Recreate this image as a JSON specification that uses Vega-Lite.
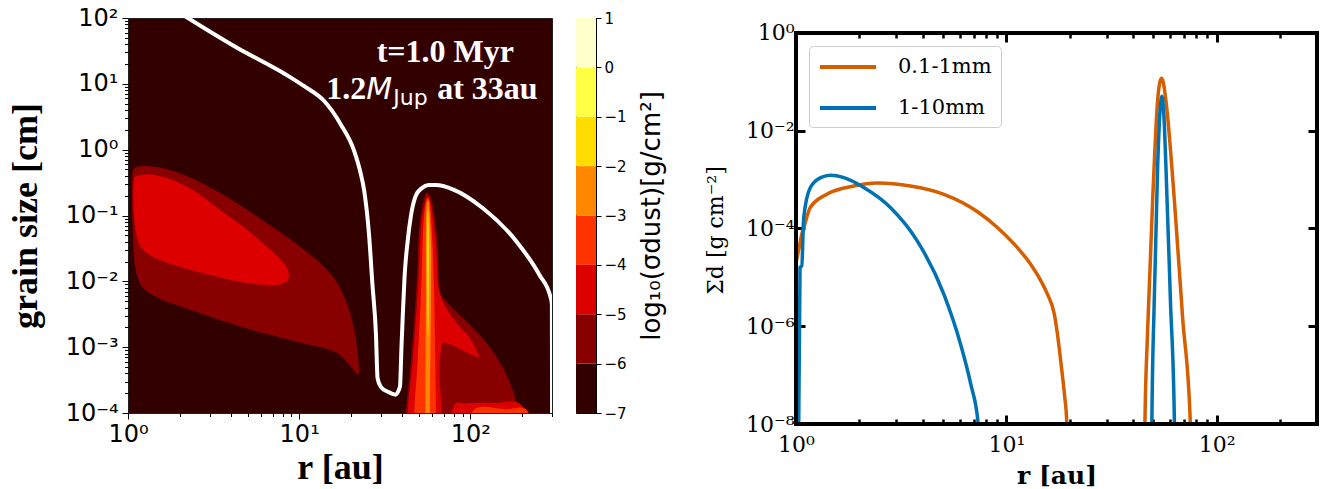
{
  "$schema": "https://vega.github.io/schema/vega-lite/v6.json",
  "background": "white",
  "padding": {"left": 6, "top": 5, "right": 5, "bottom": 0},
  "config": {
    "view": {"stroke": null},
    "axis": {"grid": false, "labelColor": "#000", "tickColor": "#000", "titleColor": "#000", "domain": false, "labelOverlap": false, "labelFlush": false}
  },
  "resolve": {"scale": {"color": "independent"}, "legend": {"color": "independent"}},
  "datasets": {
    "contours": [
      {"poly":"A6","level":-6,"i":0,"r":1.07,"a":0.473},
      {"poly":"A6","level":-6,"i":1,"r":1.12,"a":0.545},
      {"poly":"A6","level":-6,"i":2,"r":1.31,"a":0.564},
      {"poly":"A6","level":-6,"i":3,"r":1.71,"a":0.50},
      {"poly":"A6","level":-6,"i":4,"r":2.45,"a":0.353},
      {"poly":"A6","level":-6,"i":5,"r":3.85,"a":0.186},
      {"poly":"A6","level":-6,"i":6,"r":6.03,"a":0.087},
      {"poly":"A6","level":-6,"i":7,"r":9.43,"a":0.0385},
      {"poly":"A6","level":-6,"i":8,"r":13.5,"a":0.0181},
      {"poly":"A6","level":-6,"i":9,"r":16.9,"a":0.00898},
      {"poly":"A6","level":-6,"i":10,"r":19.4,"a":0.00396},
      {"poly":"A6","level":-6,"i":11,"r":21.2,"a":0.00156},
      {"poly":"A6","level":-6,"i":12,"r":22.1,"a":0.00069},
      {"poly":"A6","level":-6,"i":13,"r":22.3,"a":0.00039},
      {"poly":"A6","level":-6,"i":14,"r":20.2,"a":0.00049},
      {"poly":"A6","level":-6,"i":15,"r":17.7,"a":0.00073},
      {"poly":"A6","level":-6,"i":16,"r":14.8,"a":0.00092},
      {"poly":"A6","level":-6,"i":17,"r":9.43,"a":0.00123},
      {"poly":"A6","level":-6,"i":18,"r":6.03,"a":0.00165},
      {"poly":"A6","level":-6,"i":19,"r":3.85,"a":0.00234},
      {"poly":"A6","level":-6,"i":20,"r":2.45,"a":0.00352},
      {"poly":"A6","level":-6,"i":21,"r":1.57,"a":0.0053},
      {"poly":"A6","level":-6,"i":22,"r":1.25,"a":0.0075},
      {"poly":"A6","level":-6,"i":23,"r":1.14,"a":0.0113},
      {"poly":"A6","level":-6,"i":24,"r":1.09,"a":0.0203},
      {"poly":"A6","level":-6,"i":25,"r":1.07,"a":0.0515},
      {"poly":"A6","level":-6,"i":26,"r":1.055,"a":0.166},
      {"poly":"A6","level":-6,"i":27,"r":1.06,"a":0.375},
      {"poly":"R6","level":-6,"i":0,"r":42,"a":0.00003},
      {"poly":"R6","level":-6,"i":1,"r":42,"a":0.0001},
      {"poly":"R6","level":-6,"i":2,"r":45,"a":0.00061},
      {"poly":"R6","level":-6,"i":3,"r":48.1,"a":0.0063},
      {"poly":"R6","level":-6,"i":4,"r":50.3,"a":0.065},
      {"poly":"R6","level":-6,"i":5,"r":53.8,"a":0.186},
      {"poly":"R6","level":-6,"i":6,"r":56.3,"a":0.22},
      {"poly":"R6","level":-6,"i":7,"r":60.2,"a":0.148},
      {"poly":"R6","level":-6,"i":8,"r":64.4,"a":0.036},
      {"poly":"R6","level":-6,"i":9,"r":65.9,"a":0.0079},
      {"poly":"R6","level":-6,"i":10,"r":72.1,"a":0.005},
      {"poly":"R6","level":-6,"i":11,"r":94.4,"a":0.0025},
      {"poly":"R6","level":-6,"i":12,"r":123,"a":0.0012},
      {"poly":"R6","level":-6,"i":13,"r":155,"a":0.00049},
      {"poly":"R6","level":-6,"i":14,"r":181,"a":0.00019},
      {"poly":"R6","level":-6,"i":15,"r":189,"a":0.00012},
      {"poly":"R6","level":-6,"i":16,"r":221,"a":0.0001},
      {"poly":"R6","level":-6,"i":17,"r":221,"a":0.00003},
      {"poly":"A5","level":-5,"i":0,"r":1.08,"a":0.333},
      {"poly":"A5","level":-5,"i":1,"r":1.14,"a":0.397},
      {"poly":"A5","level":-5,"i":2,"r":1.37,"a":0.421},
      {"poly":"A5","level":-5,"i":3,"r":1.79,"a":0.353},
      {"poly":"A5","level":-5,"i":4,"r":2.45,"a":0.235},
      {"poly":"A5","level":-5,"i":5,"r":3.51,"a":0.117},
      {"poly":"A5","level":-5,"i":6,"r":4.81,"a":0.0652},
      {"poly":"A5","level":-5,"i":7,"r":6.59,"a":0.0324},
      {"poly":"A5","level":-5,"i":8,"r":8.24,"a":0.0181},
      {"poly":"A5","level":-5,"i":9,"r":8.71,"a":0.012},
      {"poly":"A5","level":-5,"i":10,"r":8.24,"a":0.0095},
      {"poly":"A5","level":-5,"i":11,"r":6.89,"a":0.00875},
      {"poly":"A5","level":-5,"i":12,"r":4.81,"a":0.0095},
      {"poly":"A5","level":-5,"i":13,"r":3.07,"a":0.0124},
      {"poly":"A5","level":-5,"i":14,"r":1.96,"a":0.017},
      {"poly":"A5","level":-5,"i":15,"r":1.43,"a":0.0228},
      {"poly":"A5","level":-5,"i":16,"r":1.2,"a":0.0324},
      {"poly":"A5","level":-5,"i":17,"r":1.12,"a":0.0515},
      {"poly":"A5","level":-5,"i":18,"r":1.08,"a":0.117},
      {"poly":"R5","level":-5,"i":0,"r":43,"a":0.00003},
      {"poly":"R5","level":-5,"i":1,"r":43,"a":0.0001},
      {"poly":"R5","level":-5,"i":2,"r":46,"a":0.00061},
      {"poly":"R5","level":-5,"i":3,"r":49.2,"a":0.0063},
      {"poly":"R5","level":-5,"i":4,"r":51.5,"a":0.065},
      {"poly":"R5","level":-5,"i":5,"r":54.6,"a":0.166},
      {"poly":"R5","level":-5,"i":6,"r":56.3,"a":0.197},
      {"poly":"R5","level":-5,"i":7,"r":58.9,"a":0.148},
      {"poly":"R5","level":-5,"i":8,"r":63,"a":0.036},
      {"poly":"R5","level":-5,"i":9,"r":65.9,"a":0.0071},
      {"poly":"R5","level":-5,"i":10,"r":78.9,"a":0.0028},
      {"poly":"R5","level":-5,"i":11,"r":98.6,"a":0.0014},
      {"poly":"R5","level":-5,"i":12,"r":110,"a":0.00082},
      {"poly":"R5","level":-5,"i":13,"r":108,"a":0.00072},
      {"poly":"R5","level":-5,"i":14,"r":72,"a":0.00116},
      {"poly":"R5","level":-5,"i":15,"r":67.4,"a":0.00087},
      {"poly":"R5","level":-5,"i":16,"r":65.9,"a":0.00034},
      {"poly":"R5","level":-5,"i":17,"r":67.4,"a":0.00015},
      {"poly":"R5","level":-5,"i":18,"r":65.9,"a":0.00003},
      {"poly":"S5","level":-5,"i":0,"r":76,"a":0.00003},
      {"poly":"S5","level":-5,"i":1,"r":80,"a":0.000125},
      {"poly":"S5","level":-5,"i":2,"r":95,"a":0.00014},
      {"poly":"S5","level":-5,"i":3,"r":140,"a":0.000142},
      {"poly":"S5","level":-5,"i":4,"r":200,"a":0.00013},
      {"poly":"S5","level":-5,"i":5,"r":235,"a":0.00003},
      {"poly":"R4","level":-4,"i":0,"r":47,"a":0.00003},
      {"poly":"R4","level":-4,"i":1,"r":47,"a":0.0001},
      {"poly":"R4","level":-4,"i":2,"r":49.2,"a":0.00061},
      {"poly":"R4","level":-4,"i":3,"r":51.5,"a":0.0063},
      {"poly":"R4","level":-4,"i":4,"r":53.1,"a":0.065},
      {"poly":"R4","level":-4,"i":5,"r":55,"a":0.156},
      {"poly":"R4","level":-4,"i":6,"r":56.3,"a":0.18},
      {"poly":"R4","level":-4,"i":7,"r":58,"a":0.148},
      {"poly":"R4","level":-4,"i":8,"r":60.2,"a":0.036},
      {"poly":"R4","level":-4,"i":9,"r":61.5,"a":0.0063},
      {"poly":"R4","level":-4,"i":10,"r":62.4,"a":0.00061},
      {"poly":"R4","level":-4,"i":11,"r":63,"a":0.0001},
      {"poly":"R4","level":-4,"i":12,"r":63,"a":0.00003},
      {"poly":"S4","level":-4,"i":0,"r":98,"a":0.00003},
      {"poly":"S4","level":-4,"i":1,"r":105,"a":0.000112},
      {"poly":"S4","level":-4,"i":2,"r":160,"a":0.000114},
      {"poly":"S4","level":-4,"i":3,"r":215,"a":0.000108},
      {"poly":"S4","level":-4,"i":4,"r":228,"a":0.00003},
      {"poly":"R3","level":-3,"i":0,"r":54.6,"a":0.00003},
      {"poly":"R3","level":-3,"i":1,"r":54.6,"a":0.00012},
      {"poly":"R3","level":-3,"i":2,"r":55,"a":0.0063},
      {"poly":"R3","level":-3,"i":3,"r":55,"a":0.065},
      {"poly":"R3","level":-3,"i":4,"r":55.7,"a":0.148},
      {"poly":"R3","level":-3,"i":5,"r":56.6,"a":0.166},
      {"poly":"R3","level":-3,"i":6,"r":57.5,"a":0.14},
      {"poly":"R3","level":-3,"i":7,"r":58.9,"a":0.036},
      {"poly":"R3","level":-3,"i":8,"r":58.9,"a":0.0063},
      {"poly":"R3","level":-3,"i":9,"r":58,"a":0.00012},
      {"poly":"R3","level":-3,"i":10,"r":58,"a":0.00003},
      {"poly":"R2","level":-2,"i":0,"r":56.1,"a":0.1},
      {"poly":"R2","level":-2,"i":1,"r":55.7,"a":0.02},
      {"poly":"R2","level":-2,"i":2,"r":56.3,"a":0.002},
      {"poly":"R2","level":-2,"i":3,"r":57,"a":0.002},
      {"poly":"R2","level":-2,"i":4,"r":57.3,"a":0.02},
      {"poly":"R2","level":-2,"i":5,"r":57,"a":0.1}
    ],
    "whiteline": [
      {"i":0,"r":2.0,"a":120},
      {"i":1,"r":4.36,"a":35},
      {"i":2,"r":8.3,"a":14},
      {"i":3,"r":10.7,"a":9.2},
      {"i":4,"r":14,"a":5.48},
      {"i":5,"r":17.5,"a":2.42},
      {"i":6,"r":20.97,"a":0.953},
      {"i":7,"r":22.7,"a":0.473},
      {"i":8,"r":24.0,"a":0.235},
      {"i":9,"r":25.6,"a":0.051},
      {"i":10,"r":26.8,"a":0.0089},
      {"i":11,"r":28.1,"a":0.00155},
      {"i":12,"r":28.7,"a":0.00034},
      {"i":13,"r":30,"a":0.00025},
      {"i":14,"r":33,"a":0.00021},
      {"i":15,"r":36.5,"a":0.00019},
      {"i":16,"r":38.8,"a":0.00025},
      {"i":17,"r":39.6,"a":0.001},
      {"i":18,"r":40.3,"a":0.003},
      {"i":19,"r":41.3,"a":0.012},
      {"i":20,"r":43,"a":0.04},
      {"i":21,"r":45,"a":0.1},
      {"i":22,"r":48,"a":0.2},
      {"i":23,"r":52,"a":0.26},
      {"i":24,"r":57,"a":0.29},
      {"i":25,"r":63,"a":0.29},
      {"i":26,"r":79,"a":0.25},
      {"i":27,"r":118,"a":0.13},
      {"i":28,"r":185,"a":0.041},
      {"i":29,"r":253,"a":0.0126},
      {"i":30,"r":295,"a":0.0056},
      {"i":31,"r":299.5,"a":0.0045},
      {"i":32,"r":300.5,"a":0.00005}
    ],
    "annot": [
      {"key":"l1","txt":"t=1.0 Myr","r":71.4,"a":21.4},
      {"key":"p1","txt":"1.2","r":61.5,"a":5.87},
      {"key":"p2","txt":"M","r":61.5,"a":5.87},
      {"key":"p3","txt":"Jup","r":61.5,"a":5.87},
      {"key":"p4","txt":"at 33au","r":61.5,"a":5.87}
    ],
    "cbar": [
      {"lo":-7,"hi":-6},{"lo":-6,"hi":-5},{"lo":-5,"hi":-4},{"lo":-4,"hi":-3},
      {"lo":-3,"hi":-2},{"lo":-2,"hi":-1},{"lo":-1,"hi":0},{"lo":0,"hi":1}
    ],
    "curves": [
      {"series":"0.1-1mm","seg":"o1","i":0,"r":1.0,"S":2.0e-5},
      {"series":"0.1-1mm","seg":"o1","i":1,"r":1.04,"S":4.5e-5},
      {"series":"0.1-1mm","seg":"o1","i":2,"r":1.065,"S":7.6e-5},
      {"series":"0.1-1mm","seg":"o1","i":3,"r":1.09,"S":1.05e-4},
      {"series":"0.1-1mm","seg":"o1","i":4,"r":1.17,"S":2.7e-4},
      {"series":"0.1-1mm","seg":"o1","i":5,"r":1.4,"S":5.0e-4},
      {"series":"0.1-1mm","seg":"o1","i":6,"r":1.88,"S":7.4e-4},
      {"series":"0.1-1mm","seg":"o1","i":7,"r":2.43,"S":8.5e-4},
      {"series":"0.1-1mm","seg":"o1","i":8,"r":3.5,"S":7.4e-4},
      {"series":"0.1-1mm","seg":"o1","i":9,"r":5.05,"S":5.0e-4},
      {"series":"0.1-1mm","seg":"o1","i":10,"r":7.3,"S":2.2e-4},
      {"series":"0.1-1mm","seg":"o1","i":11,"r":9.06,"S":1.05e-4},
      {"series":"0.1-1mm","seg":"o1","i":12,"r":10.9,"S":4.8e-5},
      {"series":"0.1-1mm","seg":"o1","i":13,"r":13,"S":1.9e-5},
      {"series":"0.1-1mm","seg":"o1","i":14,"r":14.6,"S":8.5e-6},
      {"series":"0.1-1mm","seg":"o1","i":15,"r":15.7,"S":4.5e-6},
      {"series":"0.1-1mm","seg":"o1","i":16,"r":16.9,"S":1.8e-6},
      {"series":"0.1-1mm","seg":"o1","i":17,"r":17.5,"S":6.9e-7},
      {"series":"0.1-1mm","seg":"o1","i":18,"r":18.3,"S":1.4e-7},
      {"series":"0.1-1mm","seg":"o1","i":19,"r":18.9,"S":4e-8},
      {"series":"0.1-1mm","seg":"o1","i":20,"r":19.4,"S":1e-8},
      {"series":"0.1-1mm","seg":"o1","i":21,"r":19.6,"S":1e-9},
      {"series":"0.1-1mm","seg":"o2","i":0,"r":45.4,"S":1e-9},
      {"series":"0.1-1mm","seg":"o2","i":1,"r":45.6,"S":1e-8},
      {"series":"0.1-1mm","seg":"o2","i":2,"r":46.9,"S":6.9e-7},
      {"series":"0.1-1mm","seg":"o2","i":3,"r":49.6,"S":3.6e-4},
      {"series":"0.1-1mm","seg":"o2","i":4,"r":52.4,"S":0.041},
      {"series":"0.1-1mm","seg":"o2","i":5,"r":53.6,"S":0.095},
      {"series":"0.1-1mm","seg":"o2","i":6,"r":54.7,"S":0.118},
      {"series":"0.1-1mm","seg":"o2","i":7,"r":55.8,"S":0.095},
      {"series":"0.1-1mm","seg":"o2","i":8,"r":57.4,"S":0.041},
      {"series":"0.1-1mm","seg":"o2","i":9,"r":63,"S":3.6e-4},
      {"series":"0.1-1mm","seg":"o2","i":10,"r":68.9,"S":1.5e-6},
      {"series":"0.1-1mm","seg":"o2","i":11,"r":75,"S":1e-8},
      {"series":"0.1-1mm","seg":"o2","i":12,"r":75.3,"S":1e-9},
      {"series":"1-10mm","seg":"b1","i":0,"r":1.03,"S":1e-8},
      {"series":"1-10mm","seg":"b1","i":1,"r":1.045,"S":1.6e-5},
      {"series":"1-10mm","seg":"b1","i":2,"r":1.065,"S":1.7e-5},
      {"series":"1-10mm","seg":"b1","i":3,"r":1.088,"S":1.66e-4},
      {"series":"1-10mm","seg":"b1","i":4,"r":1.17,"S":6.9e-4},
      {"series":"1-10mm","seg":"b1","i":5,"r":1.31,"S":1.1e-3},
      {"series":"1-10mm","seg":"b1","i":6,"r":1.46,"S":1.23e-3},
      {"series":"1-10mm","seg":"b1","i":7,"r":1.69,"S":1.1e-3},
      {"series":"1-10mm","seg":"b1","i":8,"r":2.1,"S":6.9e-4},
      {"series":"1-10mm","seg":"b1","i":9,"r":2.81,"S":2.7e-4},
      {"series":"1-10mm","seg":"b1","i":10,"r":3.77,"S":5.6e-5},
      {"series":"1-10mm","seg":"b1","i":11,"r":5.05,"S":4.5e-6},
      {"series":"1-10mm","seg":"b1","i":12,"r":6.06,"S":4.3e-7},
      {"series":"1-10mm","seg":"b1","i":13,"r":6.77,"S":6.6e-8},
      {"series":"1-10mm","seg":"b1","i":14,"r":7.35,"S":1e-8},
      {"series":"1-10mm","seg":"b1","i":15,"r":7.42,"S":1e-9},
      {"series":"1-10mm","seg":"b2","i":0,"r":49.0,"S":1e-9},
      {"series":"1-10mm","seg":"b2","i":1,"r":49.2,"S":1e-8},
      {"series":"1-10mm","seg":"b2","i":2,"r":50.5,"S":3.3e-6},
      {"series":"1-10mm","seg":"b2","i":3,"r":52.4,"S":1.8e-3},
      {"series":"1-10mm","seg":"b2","i":4,"r":53.8,"S":0.025},
      {"series":"1-10mm","seg":"b2","i":5,"r":54.9,"S":0.051},
      {"series":"1-10mm","seg":"b2","i":6,"r":56,"S":0.025},
      {"series":"1-10mm","seg":"b2","i":7,"r":57.4,"S":1.8e-3},
      {"series":"1-10mm","seg":"b2","i":8,"r":60.3,"S":3.3e-6},
      {"series":"1-10mm","seg":"b2","i":9,"r":63,"S":1e-8},
      {"series":"1-10mm","seg":"b2","i":10,"r":63.3,"S":1e-9}
    ]
  },
  "spacing": 39,
  "hconcat": [
    {
      "spacing": 22,
      "hconcat": [
        {
          "width": 424,
          "height": 395,
          "view": {"fill": "#330000", "stroke": "#222222", "strokeWidth": 1},
          "resolve": {"axis": {"x": "independent", "y": "independent"}},
          "layer": [
            {
              "data": {"name": "contours"},
              "transform": [{"filter": "datum.level == -6"}],
              "mark": {"type": "line", "filled": true, "interpolate": "cardinal-closed", "clip": true, "strokeWidth": 0},
              "encoding": {
                "x": {"field": "r", "type": "quantitative", "scale": {"type": "log", "domain": [1, 300], "nice": false}, "axis": null},
                "y": {"field": "a", "type": "quantitative", "scale": {"type": "log", "domain": [0.0001, 100], "nice": false}, "axis": null},
                "color": {"field": "level", "type": "ordinal", "scale": {"domain": [-7,-6,-5,-4,-3,-2,-1,0], "range": ["#330000","#880000","#dd0000","#ff3300","#ff8800","#ffdd00","#ffff44","#ffffcc"]}, "legend": null},
                "detail": {"field": "poly"},
                "order": {"field": "i", "type": "quantitative"}
              }
            },
            {
              "data": {"name": "contours"},
              "transform": [{"filter": "datum.level == -5"}],
              "mark": {"type": "line", "filled": true, "interpolate": "cardinal-closed", "clip": true, "strokeWidth": 0},
              "encoding": {
                "x": {"field": "r", "type": "quantitative", "scale": {"type": "log", "domain": [1, 300], "nice": false}, "axis": null},
                "y": {"field": "a", "type": "quantitative", "scale": {"type": "log", "domain": [0.0001, 100], "nice": false}, "axis": null},
                "color": {"field": "level", "type": "ordinal", "legend": null},
                "detail": {"field": "poly"},
                "order": {"field": "i", "type": "quantitative"}
              }
            },
            {
              "data": {"name": "contours"},
              "transform": [{"filter": "datum.level == -4"}],
              "mark": {"type": "line", "filled": true, "interpolate": "cardinal-closed", "clip": true, "strokeWidth": 0},
              "encoding": {
                "x": {"field": "r", "type": "quantitative", "scale": {"type": "log", "domain": [1, 300], "nice": false}, "axis": null},
                "y": {"field": "a", "type": "quantitative", "scale": {"type": "log", "domain": [0.0001, 100], "nice": false}, "axis": null},
                "color": {"field": "level", "type": "ordinal", "legend": null},
                "detail": {"field": "poly"},
                "order": {"field": "i", "type": "quantitative"}
              }
            },
            {
              "data": {"name": "contours"},
              "transform": [{"filter": "datum.level == -3"}],
              "mark": {"type": "line", "filled": true, "interpolate": "cardinal-closed", "clip": true, "strokeWidth": 0},
              "encoding": {
                "x": {"field": "r", "type": "quantitative", "scale": {"type": "log", "domain": [1, 300], "nice": false}, "axis": null},
                "y": {"field": "a", "type": "quantitative", "scale": {"type": "log", "domain": [0.0001, 100], "nice": false}, "axis": null},
                "color": {"field": "level", "type": "ordinal", "legend": null},
                "detail": {"field": "poly"},
                "order": {"field": "i", "type": "quantitative"}
              }
            },
            {
              "data": {"name": "contours"},
              "transform": [{"filter": "datum.level == -2"}],
              "mark": {"type": "line", "filled": true, "interpolate": "cardinal-closed", "clip": true, "strokeWidth": 0},
              "encoding": {
                "x": {"field": "r", "type": "quantitative", "scale": {"type": "log", "domain": [1, 300], "nice": false}, "axis": null},
                "y": {"field": "a", "type": "quantitative", "scale": {"type": "log", "domain": [0.0001, 100], "nice": false}, "axis": null},
                "color": {"field": "level", "type": "ordinal", "legend": null},
                "detail": {"field": "poly"},
                "order": {"field": "i", "type": "quantitative"}
              }
            },
            {
              "data": {"name": "whiteline"},
              "mark": {"type": "line", "color": "white", "strokeWidth": 4, "interpolate": "monotone", "clip": true},
              "encoding": {
                "x": {"field": "r", "type": "quantitative", "scale": {"type": "log", "domain": [1, 300], "nice": false},
                  "axis": {"orient": "bottom", "values": [1, 10, 100], "labelExpr": "'10' + (datum.value < 1 ? '⁻' : '') + ['⁰','¹','²','³','⁴','⁵','⁶','⁷','⁸','⁹'][abs(round(log(datum.value)/LN10))]", "tickSize": 6, "tickWidth": 1, "labelFont": "DejaVu Sans", "labelFontSize": 24, "labelPadding": 3, "title": "r [au]", "titleFont": "Liberation Serif", "titleFontSize": 36, "titleFontWeight": "bold", "titlePadding": 4}},
                "y": {"field": "a", "type": "quantitative", "scale": {"type": "log", "domain": [0.0001, 100], "nice": false},
                  "axis": {"orient": "left", "values": [0.0001, 0.001, 0.01, 0.1, 1, 10, 100], "labelExpr": "'10' + (datum.value < 1 ? '⁻' : '') + ['⁰','¹','²','³','⁴','⁵','⁶','⁷','⁸','⁹'][abs(round(log(datum.value)/LN10))]", "tickSize": 6, "tickWidth": 1, "labelFont": "DejaVu Sans", "labelFontSize": 24, "labelPadding": 4, "title": "grain size [cm]", "titleFont": "Liberation Serif", "titleFontSize": 36, "titleFontWeight": "bold", "titlePadding": 21}},
                "order": {"field": "i", "type": "quantitative"}
              }
            },
            {
              "data": {"name": "annot"},
              "transform": [{"filter": "datum.key == 'l1'"}],
              "mark": {"type": "text", "color": "white", "font": "Liberation Serif", "fontWeight": "bold", "fontSize": 32, "align": "center", "baseline": "alphabetic"},
              "encoding": {
                "x": {"field": "r", "type": "quantitative", "scale": {"type": "log", "domain": [1, 300], "nice": false},
                  "axis": {"orient": "bottom", "values": [2,3,4,5,6,7,8,9,20,30,40,50,60,70,80,90,200,300], "labels": false, "tickSize": 3.5, "tickWidth": 1, "title": null}},
                "y": {"field": "a", "type": "quantitative", "scale": {"type": "log", "domain": [0.0001, 100], "nice": false},
                  "axis": {"orient": "left", "values": [0.0002,0.0003,0.0004,0.0005,0.0006,0.0007,0.0008,0.0009,0.002,0.003,0.004,0.005,0.006,0.007,0.008,0.009,0.02,0.03,0.04,0.05,0.06,0.07,0.08,0.09,0.2,0.3,0.4,0.5,0.6,0.7,0.8,0.9,2,3,4,5,6,7,8,9,20,30,40,50,60,70,80,90], "labels": false, "tickSize": 3.5, "tickWidth": 1, "title": null}},
                "text": {"field": "txt"}
              }
            },
            {
              "data": {"name": "annot"},
              "transform": [{"filter": "datum.key == 'p1'"}],
              "mark": {"type": "text", "color": "white", "font": "Liberation Serif", "fontWeight": "bold", "fontSize": 32, "align": "left", "baseline": "alphabetic", "dx": -108},
              "encoding": {
                "x": {"field": "r", "type": "quantitative", "scale": {"type": "log", "domain": [1, 300], "nice": false}, "axis": null},
                "y": {"field": "a", "type": "quantitative", "scale": {"type": "log", "domain": [0.0001, 100], "nice": false}, "axis": null},
                "text": {"field": "txt"}
              }
            },
            {
              "data": {"name": "annot"},
              "transform": [{"filter": "datum.key == 'p2'"}],
              "mark": {"type": "text", "color": "white", "font": "DejaVu Sans", "fontStyle": "italic", "fontSize": 30, "align": "left", "baseline": "alphabetic", "dx": -68},
              "encoding": {
                "x": {"field": "r", "type": "quantitative", "scale": {"type": "log", "domain": [1, 300], "nice": false}, "axis": null},
                "y": {"field": "a", "type": "quantitative", "scale": {"type": "log", "domain": [0.0001, 100], "nice": false}, "axis": null},
                "text": {"field": "txt"}
              }
            },
            {
              "data": {"name": "annot"},
              "transform": [{"filter": "datum.key == 'p3'"}],
              "mark": {"type": "text", "color": "white", "font": "DejaVu Sans", "fontSize": 22, "align": "left", "baseline": "alphabetic", "dx": -41, "dy": 6},
              "encoding": {
                "x": {"field": "r", "type": "quantitative", "scale": {"type": "log", "domain": [1, 300], "nice": false}, "axis": null},
                "y": {"field": "a", "type": "quantitative", "scale": {"type": "log", "domain": [0.0001, 100], "nice": false}, "axis": null},
                "text": {"field": "txt"}
              }
            },
            {
              "data": {"name": "annot"},
              "transform": [{"filter": "datum.key == 'p4'"}],
              "mark": {"type": "text", "color": "white", "font": "Liberation Serif", "fontWeight": "bold", "fontSize": 32, "align": "left", "baseline": "alphabetic", "dx": 3},
              "encoding": {
                "x": {"field": "r", "type": "quantitative", "scale": {"type": "log", "domain": [1, 300], "nice": false}, "axis": null},
                "y": {"field": "a", "type": "quantitative", "scale": {"type": "log", "domain": [0.0001, 100], "nice": false}, "axis": null},
                "text": {"field": "txt"}
              }
            }
          ]
        },
        {
          "width": 20,
          "height": 395,
          "view": {"stroke": "#000000", "strokeWidth": 1},
          "data": {"name": "cbar"},
          "mark": {"type": "rect"},
          "encoding": {
            "y": {"field": "lo", "type": "quantitative", "scale": {"domain": [-7, 1], "nice": false, "zero": false},
              "axis": {"orient": "right", "values": [-7,-6,-5,-4,-3,-2,-1,0,1], "labelExpr": "datum.value < 0 ? '−' + abs(datum.value) : '' + datum.value", "tickSize": 5, "tickWidth": 1, "labelFont": "DejaVu Sans", "labelFontSize": 15, "labelPadding": 3, "title": "log₁₀(σdust)[g/cm²]", "titleFont": "DejaVu Sans", "titleFontSize": 26, "titleFontWeight": "normal", "titleAngle": 270, "titleBaseline": "top", "titlePadding": 12}},
            "y2": {"field": "hi"},
            "color": {"field": "lo", "type": "ordinal", "scale": {"domain": [-7,-6,-5,-4,-3,-2,-1,0], "range": ["#330000","#880000","#dd0000","#ff3300","#ff8800","#ffdd00","#ffff44","#ffffcc"]}, "legend": null}
          }
        }
      ]
    },
    {
      "width": 521,
      "height": 406,
      "resolve": {"axis": {"x": "independent", "y": "independent"}},
      "layer": [
        {
          "data": {"name": "curves"},
          "mark": {"type": "line", "strokeWidth": 3.5, "interpolate": "monotone", "clip": true},
          "encoding": {
            "x": {"field": "r", "type": "quantitative", "scale": {"type": "log", "domain": [1, 300], "nice": false},
              "axis": {"orient": "bottom", "values": [1, 10, 100], "labelExpr": "'10' + (datum.value < 1 ? '⁻' : '') + ['⁰','¹','²','³','⁴','⁵','⁶','⁷','⁸','⁹'][abs(round(log(datum.value)/LN10))]", "tickSize": -9, "tickWidth": 3, "labelFont": "DejaVu Serif", "labelFontSize": 22, "labelPadding": 19, "title": "r [au]", "titleFont": "DejaVu Serif", "titleFontSize": 25, "titleFontWeight": "bold", "titlePadding": 8}},
            "y": {"field": "S", "type": "quantitative", "scale": {"type": "log", "domain": [1e-8, 2.027], "nice": false},
              "axis": {"orient": "left", "values": [1e-8, 1e-6, 1e-4, 1e-2, 1], "labelExpr": "'10' + (datum.value < 1 ? '⁻' : '') + ['⁰','¹','²','³','⁴','⁵','⁶','⁷','⁸','⁹'][abs(round(log(datum.value)/LN10))]", "tickSize": -9, "tickWidth": 3, "labelFont": "DejaVu Serif", "labelFontSize": 22, "labelPadding": 11, "title": "Σd [g cm⁻²]", "titleFont": "DejaVu Serif", "titleFontSize": 22, "titleFontWeight": "normal", "titlePadding": 18, "titleY": 212}},
            "color": {"field": "series", "type": "nominal", "scale": {"domain": ["0.1-1mm", "1-10mm"], "range": ["#d55e00", "#0072b2"]},
              "legend": {"title": null, "orient": "none", "legendX": 13, "legendY": 28, "direction": "vertical", "labelFont": "DejaVu Serif", "labelFontSize": 21, "labelColor": "#000", "labelExpr": "datum.label + '\u00a0\u00a0\u00a0\u00a0'", "symbolType": "M-1,0H4.6", "symbolSize": 400, "symbolStrokeWidth": 4, "symbolFillColor": "transparent", "labelOffset": 56, "padding": 9, "strokeColor": "#cccccc", "fillColor": "white", "cornerRadius": 4, "rowPadding": 19, "labelLimit": 300}},
            "detail": {"field": "seg"},
            "order": {"field": "i", "type": "quantitative"}
          }
        },
        {
          "data": {"values": [{}]},
          "mark": {"type": "rule", "color": "#000", "strokeWidth": 4, "strokeCap": "square"},
          "encoding": {
            "x": {"datum": 1, "type": "quantitative", "scale": {"type": "log", "domain": [1, 300], "nice": false},
              "axis": {"orient": "bottom", "values": [2,3,4,5,6,7,8,9,20,30,40,50,60,70,80,90,200,300], "labels": false, "tickSize": -5, "tickWidth": 2.5, "title": null}},
            "y": {"datum": 1e-8, "type": "quantitative", "scale": {"type": "log", "domain": [1e-8, 2.027], "nice": false},
              "axis": {"orient": "right", "values": [1e-8, 1e-6, 1e-4, 1e-2, 1], "labels": false, "tickSize": -9, "tickWidth": 3, "title": null}},
            "y2": {"datum": 1}
          }
        },
        {
          "data": {"values": [{}]},
          "mark": {"type": "rule", "color": "#000", "strokeWidth": 4, "strokeCap": "square"},
          "encoding": {
            "x": {"datum": 300, "type": "quantitative", "scale": {"type": "log", "domain": [1, 300], "nice": false},
              "axis": {"orient": "top", "offset": -15, "values": [1, 10, 100], "labels": false, "tickSize": -9, "tickWidth": 3, "title": null}},
            "y": {"datum": 1e-8, "type": "quantitative", "scale": {"type": "log", "domain": [1e-8, 2.027], "nice": false}, "axis": null},
            "y2": {"datum": 1}
          }
        },
        {
          "data": {"values": [{}]},
          "mark": {"type": "rule", "color": "#000", "strokeWidth": 4, "strokeCap": "square"},
          "encoding": {
            "x": {"datum": 1, "type": "quantitative", "scale": {"type": "log", "domain": [1, 300], "nice": false},
              "axis": {"orient": "top", "offset": -15, "values": [2,3,4,5,6,7,8,9,20,30,40,50,60,70,80,90,200,300], "labels": false, "tickSize": -5, "tickWidth": 2.5, "title": null}},
            "x2": {"datum": 300},
            "y": {"datum": 1, "type": "quantitative", "scale": {"type": "log", "domain": [1e-8, 2.027], "nice": false}, "axis": null}
          }
        },
        {
          "data": {"values": [{}]},
          "mark": {"type": "rule", "color": "#000", "strokeWidth": 4, "strokeCap": "square"},
          "encoding": {
            "x": {"datum": 1, "type": "quantitative", "scale": {"type": "log", "domain": [1, 300], "nice": false}, "axis": null},
            "x2": {"datum": 300},
            "y": {"datum": 1e-8, "type": "quantitative", "scale": {"type": "log", "domain": [1e-8, 2.027], "nice": false}, "axis": null}
          }
        }
      ]
    }
  ]
}
